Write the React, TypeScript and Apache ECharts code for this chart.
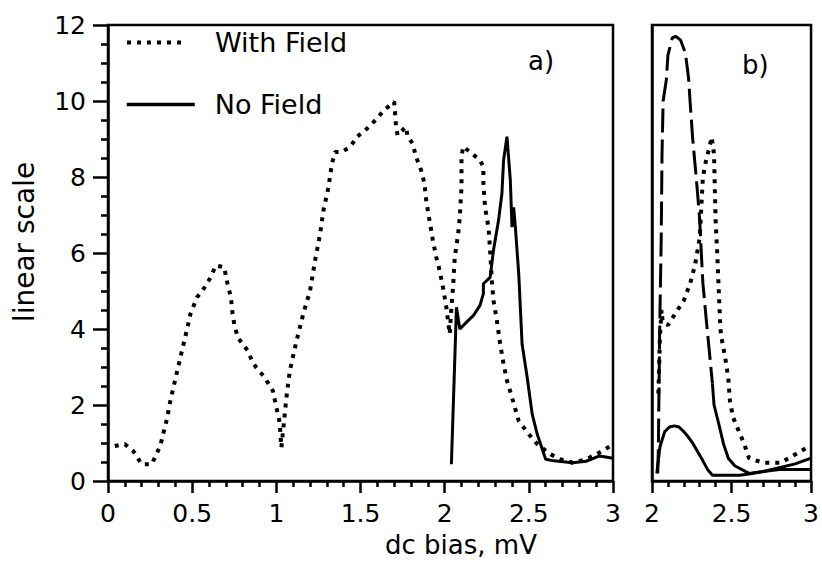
import React, { useEffect, useRef } from "react";
import * as echarts from "echarts";

// ---- Panel a) : With Field (dotted) ----
const withFieldX = [0.04, 0.10, 0.15, 0.20, 0.26, 0.31, 0.35, 0.37, 0.40, 0.43, 0.47, 0.49, 0.53, 0.56, 0.61, 0.64, 0.69, 0.71, 0.73, 0.74, 0.75, 0.77, 0.83, 0.86, 0.88, 0.93, 0.98, 0.99, 1.02, 1.03, 1.06, 1.08, 1.12, 1.16, 1.20, 1.23, 1.26, 1.28, 1.31, 1.33, 1.35, 1.39, 1.44, 1.48, 1.54, 1.59, 1.64, 1.70, 1.71, 1.72, 1.77, 1.78, 1.81, 1.83, 1.86, 1.88, 1.89, 1.91, 1.93, 1.95, 1.97, 1.99, 2.01, 2.03, 2.04, 2.05, 2.06, 2.08, 2.09, 2.10, 2.10, 2.11, 2.15, 2.21, 2.23, 2.23, 2.24, 2.26, 2.27, 2.28, 2.29, 2.31, 2.33, 2.35, 2.37, 2.40, 2.44, 2.50, 2.55, 2.63, 2.69, 2.76, 2.84, 2.92, 2.97, 3.00];
const withFieldY = [0.92, 0.97, 0.79, 0.44, 0.44, 0.92, 1.63, 2.1, 2.68, 3.25, 4.0, 4.4, 4.84, 5.0, 5.36, 5.67, 5.63, 5.19, 4.84, 4.4, 4.13, 3.78, 3.43, 3.12, 2.99, 2.73, 2.37, 2.15, 1.54, 0.88, 2.2, 2.9, 3.69, 4.4, 5.0, 5.8, 6.5, 7.12, 7.74, 8.35, 8.66, 8.66, 8.8, 9.06, 9.28, 9.5, 9.76, 9.98, 9.41, 9.1, 9.32, 9.06, 8.88, 8.53, 8.18, 7.83, 7.39, 6.86, 6.33, 5.89, 5.54, 5.1, 4.57, 3.87, 4.57, 5.1, 5.89, 6.5, 6.95, 7.74, 8.53, 8.8, 8.66, 8.44, 8.27, 7.83, 7.2, 6.68, 6.07, 5.28, 4.75, 4.22, 3.6, 3.08, 2.64, 2.2, 1.58, 1.23, 0.97, 0.7, 0.57, 0.48, 0.57, 0.75, 0.88, 0.95];

// ---- Panel a) : No Field (solid) ----
const noFieldX = [2.04, 2.07, 2.09, 2.13, 2.17, 2.21, 2.23, 2.23, 2.27, 2.29, 2.32, 2.34, 2.35, 2.37, 2.39, 2.40, 2.41, 2.42, 2.44, 2.46, 2.49, 2.52, 2.55, 2.60, 2.65, 2.76, 2.84, 2.92, 3.00];
const noFieldY = [0.44, 4.57, 4.0, 4.18, 4.35, 4.62, 4.93, 5.19, 5.36, 6.07, 6.86, 7.56, 8.44, 9.06, 7.92, 6.68, 7.2, 6.68, 5.45, 3.6, 2.73, 1.76, 1.23, 0.57, 0.53, 0.48, 0.52, 0.66, 0.6];

// ---- Panel b) : long-dash curve (dashed part and solid tail) ----
const bDashX = [2.036, 2.04, 2.048, 2.058, 2.063, 2.07, 2.09, 2.10, 2.127, 2.15, 2.18, 2.21, 2.23, 2.24, 2.255, 2.27, 2.285, 2.30, 2.31, 2.32, 2.34, 2.36, 2.38];
const bDashY = [0.2, 0.87, 3.9, 6.4, 8.6, 10.0, 10.55, 11.2, 11.66, 11.7, 11.6, 11.26, 10.6, 9.95, 9.05, 8.36, 7.65, 6.86, 6.0, 5.2, 4.3, 3.43, 2.56];
const bTailX = [2.38, 2.39, 2.42, 2.45, 2.48, 2.52, 2.61, 2.70, 2.80, 2.90, 3.00];
const bTailY = [2.56, 2.0, 1.5, 0.97, 0.6, 0.4, 0.2, 0.25, 0.35, 0.45, 0.6];

// ---- Panel b) : small solid bump ----
const bSolidX = [2.03, 2.05, 2.08, 2.11, 2.14, 2.17, 2.20, 2.23, 2.26, 2.29, 2.32, 2.35, 2.38, 2.45, 2.55, 2.60, 2.70, 2.80, 2.90, 3.00];
const bSolidY = [0.2, 0.9, 1.3, 1.42, 1.45, 1.42, 1.3, 1.15, 0.97, 0.75, 0.53, 0.3, 0.15, 0.15, 0.15, 0.18, 0.25, 0.3, 0.3, 0.3];

// ---- Panel b) : dotted curve ----
const bDotX = [2.04, 2.05, 2.06, 2.067, 2.10, 2.15, 2.20, 2.24, 2.27, 2.30, 2.31, 2.32, 2.34, 2.36, 2.375, 2.39, 2.395, 2.40, 2.41, 2.42, 2.43, 2.44, 2.46, 2.48, 2.49, 2.51, 2.55, 2.58, 2.61, 2.70, 2.81, 2.90, 2.99];
const bDotY = [2.3, 3.8, 4.5, 4.2, 4.1, 4.43, 4.75, 5.2, 5.67, 6.4, 7.2, 8.0, 8.44, 8.76, 9.05, 8.6, 7.7, 6.86, 6.0, 5.0, 4.0, 3.7, 3.25, 2.7, 2.1, 1.67, 1.27, 0.97, 0.6, 0.48, 0.48, 0.7, 0.92];

// ---- Axis tick labels ----
const yTicks = [0, 2, 4, 6, 8, 10, 12];
const xTicksA = [0, 0.5, 1, 1.5, 2, 2.5, 3];
const xTicksB = [2, 2.5, 3];

const zip = (xs: number[], ys: number[]) => xs.map((x, i) => [x, ys[i]]);

const FONT = "DejaVu Sans";
const DOT: number[] = [4, 6];

export default function App() {
  const ref = useRef<HTMLDivElement>(null);

  useEffect(() => {
    if (!ref.current) return;
    const chart = echarts.init(ref.current, undefined, { renderer: "svg" });

    const axisLine = { show: true, lineStyle: { color: "#000", width: 2.5 } };
    const labelStyle = { color: "#000", fontSize: 25, fontFamily: FONT };

    const xAxisCommon = (min: number, max: number, ticks: number[]) => ({
      type: "value" as const,
      min,
      max,
      interval: 0.5,
      axisLine,
      axisTick: { show: true, length: 12, lineStyle: { color: "#000", width: 2.5 } },
      minorTick: { show: true, splitNumber: 5, length: 6, lineStyle: { color: "#000", width: 2.5 } },
      splitLine: { show: false },
      axisLabel: {
        ...labelStyle,
        margin: 20,
        formatter: (v: number) => (ticks.includes(v) ? String(v) : ""),
      },
    });

    const legendText = { color: "#000", fontSize: 27, fontFamily: FONT };

    chart.setOption({
      animation: false,
      backgroundColor: "#fff",
      textStyle: { fontFamily: FONT },
      grid: [
        { left: 108, top: 25, width: 505, height: 456, show: true, borderColor: "#000", borderWidth: 2.5, backgroundColor: "transparent" },
        { left: 652, top: 25, width: 165, height: 456, show: true, borderColor: "#000", borderWidth: 2.5, backgroundColor: "transparent" },
      ],
      xAxis: [
        { ...xAxisCommon(0, 3, xTicksA), gridIndex: 0 },
        { ...xAxisCommon(2, 3, xTicksB), gridIndex: 1 },
      ],
      yAxis: [
        {
          type: "value",
          gridIndex: 0,
          min: 0,
          max: 12,
          interval: 2,
          axisLine,
          axisTick: { show: true, length: 15, lineStyle: { color: "#000", width: 2.5 } },
          minorTick: { show: true, splitNumber: 4, length: 7, lineStyle: { color: "#000", width: 2.5 } },
          splitLine: { show: false },
          axisLabel: {
            ...labelStyle,
            margin: 22,
            formatter: (v: number) => (yTicks.includes(v) ? String(v) : ""),
          },
        },
        {
          type: "value",
          gridIndex: 1,
          min: 0,
          max: 12,
          interval: 2,
          axisLine,
          axisTick: { show: false },
          axisLabel: { show: false },
          splitLine: { show: false },
        },
      ],
      legend: [
        {
          data: ["With Field"],
          left: 120,
          top: 24,
          itemWidth: 58,
          itemHeight: 14,
          itemStyle: { opacity: 0 },
          lineStyle: { width: 4, type: DOT, color: "#000" },
          textStyle: { ...legendText, padding: [0, 0, 0, 25] },
        },
        {
          data: ["No Field"],
          left: 120,
          top: 86,
          itemWidth: 68,
          itemHeight: 14,
          itemStyle: { opacity: 0 },
          lineStyle: { width: 3.5, type: "solid", color: "#000" },
          textStyle: { ...legendText, padding: [0, 0, 0, 15] },
        },
      ],
      graphic: [
        { type: "text", left: 528, top: 48, style: { text: "a)", fill: "#000", font: `26px ${FONT}` } },
        { type: "text", left: 742, top: 52, style: { text: "b)", fill: "#000", font: `26px ${FONT}` } },
        { type: "text", left: 385, top: 532, style: { text: "dc bias, mV", fill: "#000", font: `26px ${FONT}` } },
        {
          type: "text",
          x: 24,
          y: 242,
          rotation: Math.PI / 2,
          style: { text: "linear scale", fill: "#000", font: `28px ${FONT}`, align: "center", verticalAlign: "middle" },
        },
      ],
      series: [
        {
          name: "With Field",
          type: "line",
          xAxisIndex: 0,
          yAxisIndex: 0,
          data: zip(withFieldX, withFieldY),
          symbol: "none",
          itemStyle: { color: "#000" },
          lineStyle: { color: "#000", width: 4, type: DOT },
        },
        {
          name: "No Field",
          type: "line",
          xAxisIndex: 0,
          yAxisIndex: 0,
          data: zip(noFieldX, noFieldY),
          symbol: "none",
          itemStyle: { color: "#000" },
          lineStyle: { color: "#000", width: 3, type: "solid" },
        },
        {
          name: "b long dash",
          type: "line",
          xAxisIndex: 1,
          yAxisIndex: 1,
          data: zip(bDashX, bDashY),
          symbol: "none",
          itemStyle: { color: "#000" },
          lineStyle: { color: "#000", width: 3, type: [24, 7] },
        },
        {
          name: "b long dash tail",
          type: "line",
          xAxisIndex: 1,
          yAxisIndex: 1,
          data: zip(bTailX, bTailY),
          symbol: "none",
          itemStyle: { color: "#000" },
          lineStyle: { color: "#000", width: 3, type: "solid" },
        },
        {
          name: "b solid",
          type: "line",
          xAxisIndex: 1,
          yAxisIndex: 1,
          data: zip(bSolidX, bSolidY),
          symbol: "none",
          itemStyle: { color: "#000" },
          lineStyle: { color: "#000", width: 3, type: "solid" },
        },
        {
          name: "b dotted",
          type: "line",
          xAxisIndex: 1,
          yAxisIndex: 1,
          data: zip(bDotX, bDotY),
          symbol: "none",
          itemStyle: { color: "#000" },
          lineStyle: { color: "#000", width: 4, type: DOT },
        },
      ],
    });

    return () => chart.dispose();
  }, []);

  return (
    <div
      ref={ref}
      style={{ position: "fixed", left: 0, top: 0, width: 822, height: 571, background: "#fff" }}
    />
  );
}
